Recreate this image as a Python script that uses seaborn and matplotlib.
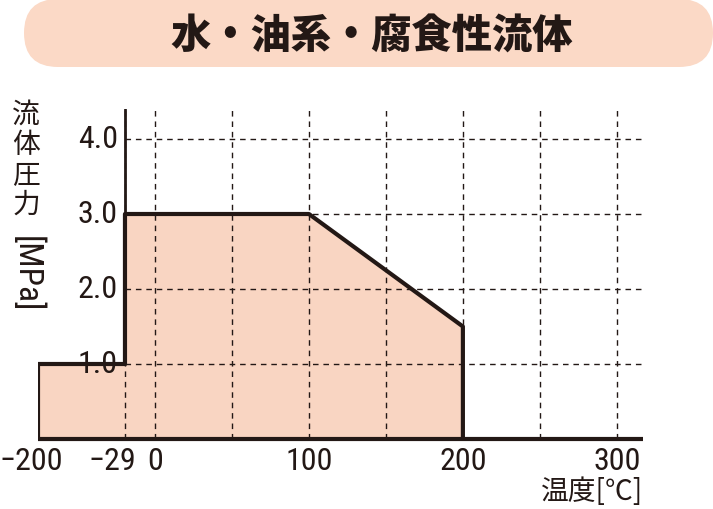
import numpy as np
import pandas as pd
import seaborn as sns
import matplotlib.pyplot as plt
import matplotlib.transforms as mtransforms
from matplotlib import font_manager
from matplotlib.patches import FancyBboxPatch

sns.set_style("white")

# pick a narrow latin face if one exists
_names = {f.name for f in font_manager.fontManager.ttflist}
num_font = next((n for n in ["Liberation Sans Narrow", "Roboto Condensed", "Open Sans Condensed",
                             "DejaVu Sans Condensed", "Liberation Sans"] if n in _names), "DejaVu Sans")
plt.rcParams["font.family"] = [num_font, "Noto Sans CJK JP", "DejaVu Sans"]

# Data
title = "水・油系・腐食性流体"
temp = [-200, -200, -29, -29, 100, 200, 200]
pressure = [0, 1.0, 1.0, 3.0, 3.0, 1.5, 0]
x_ticks = [-200, -29, 0, 100, 200, 300]
x_tick_labels = ["−200", "−29", "0", "100", "200", "300"]
y_ticks = [1.0, 2.0, 3.0, 4.0]
y_tick_labels = ["1.0", "2.0", "3.0", "4.0"]
x_grid = [-29, 0, 50, 100, 150, 200, 250, 300]

ink = "#231815"
fill_color = "#F9D5C2"
pill_color = "#FBD9C6"

# broken temperature axis: -200..-29..0 compressed
_src = [-1000, -200, -29, 0, 1000]
_dst = [-376, -76, -19.5, 0, 1000]


def fwd(x):
    return np.interp(x, _src, _dst)


def inv(p):
    return np.interp(p, _dst, _src)


df = pd.DataFrame({"temp": temp, "pressure": pressure})

fig = plt.figure(figsize=(7.13, 5.10), dpi=100)

# background layer in pixel units for the title pill
bg = fig.add_axes([0, 0, 1, 1])
bg.set_xlim(0, 713)
bg.set_ylim(510, 0)
bg.axis("off")
bg.add_patch(FancyBboxPatch((24, 0), 689, 68, boxstyle="round,pad=0,rounding_size=34",
                            facecolor=pill_color, edgecolor="none"))
bg.text(372, 37, title, ha="center", va="center", fontsize=29, fontweight="black",
        family=["Noto Sans CJK JP"], color=ink)

ax = fig.add_axes([38 / 713, 70 / 510, 605 / 713, 330 / 510])
ax.patch.set_alpha(0)
ax.set_xscale("function", functions=(fwd, inv))
ax.set_xlim(-200, 317)
ax.set_ylim(0, 4.4)

# area + outline
ax.fill(df["temp"], df["pressure"], color=fill_color, linewidth=0, zorder=1)

# grid on top of the fill
ax.vlines(x_grid, 0, 4.4, colors=ink, linestyles=(0, (4, 3.5)), linewidth=1.0, zorder=2)
ax.hlines(y_ticks, -29, 317, colors=ink, linestyles=(0, (4, 3.5)), linewidth=1.0, zorder=2)

sns.lineplot(data=df, x="temp", y="pressure", sort=False, estimator=None,
             color=ink, linewidth=3, ax=ax, zorder=4)
ax.plot([-29, -29], [1.0, 4.4], color=ink, linewidth=2, zorder=4)
ax.plot([-200, 317], [0, 0], color=ink, linewidth=3, zorder=5, clip_on=False,
        solid_capstyle="butt")

for s in ax.spines.values():
    s.set_visible(False)

ax.set_xticks(x_ticks)
ax.set_xticklabels(x_tick_labels)
ax.set_yticks([])
ax.tick_params(axis="x", length=0, labelsize=23, colors=ink, pad=5)
ax.set_xlabel("")
ax.set_ylabel("")

# nudge the crowded left labels like the original
shifts = {"−200": -7, "−29": -13}
for lab in ax.get_xticklabels():
    dx = shifts.get(lab.get_text(), 0)
    if dx:
        lab.set_transform(lab.get_transform() + mtransforms.ScaledTranslation(dx / 100, 0, fig.dpi_scale_trans))

# y tick labels sit left of the -29 line
for yv, txt in zip(y_ticks, y_tick_labels):
    ax.annotate(txt, (-29, yv), xytext=(-5, 0), textcoords="offset points",
                ha="right", va="center", fontsize=23, color=ink, zorder=6)

# y label: stacked kanji + rotated unit
for i, ch in enumerate("流体圧力"):
    bg.text(26, 115 + i * 30, ch, ha="center", va="center", fontsize=20,
            family=["Noto Sans CJK JP"], color=ink)
bg.text(26, 274, "[MPa]", ha="center", va="center", fontsize=24, rotation=270,
        family=[num_font, "DejaVu Sans"], color=ink)
bg.text(643, 492, "温度[℃]", ha="right", va="center", fontsize=20,
        family=["Noto Sans CJK JP"], color=ink)

fig.savefig("out.png", dpi=100)
